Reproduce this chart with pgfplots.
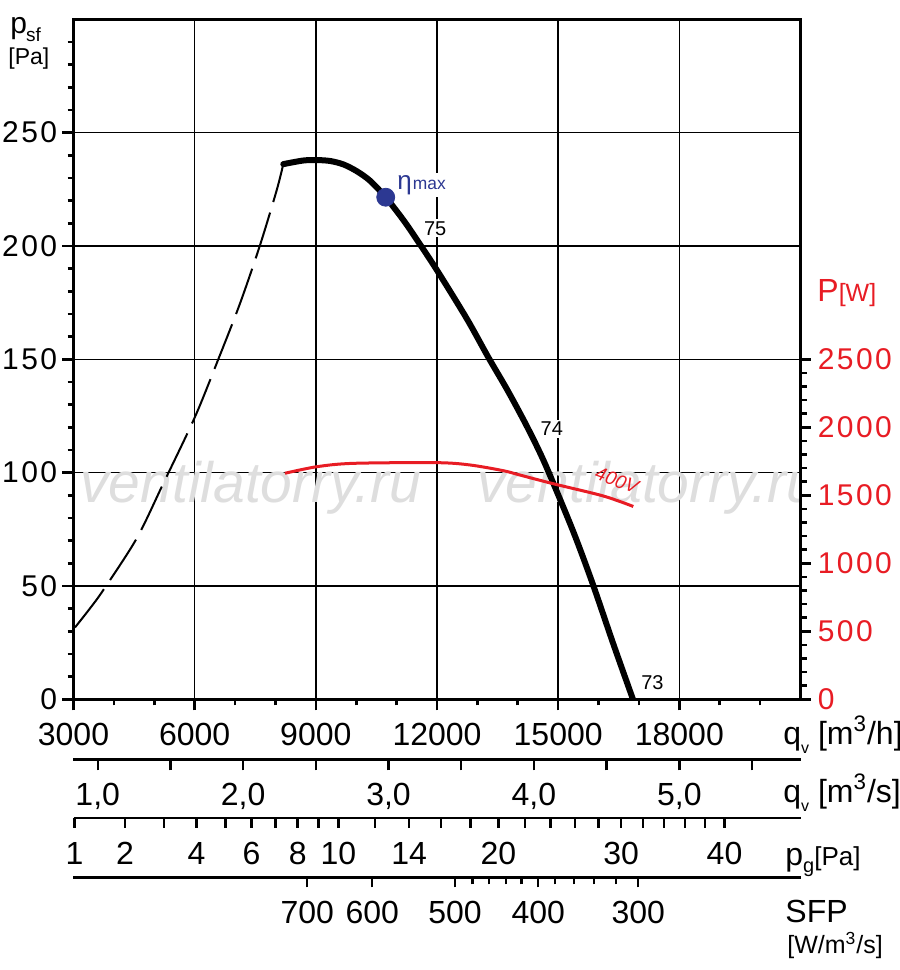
\documentclass[border=0pt]{standalone}
\usepackage{fontspec}
\setmainfont{Liberation Sans}
\usepackage{pgfplots}
\pgfplotsset{compat=1.18}
\definecolor{curvered}{RGB}{232,28,36}
\definecolor{etablue}{RGB}{44,56,146}
\newcommand\fs[1]{\fontsize{#1}{#1}\selectfont}
\newcommand\lsp{\addfontfeature{LetterSpace=8}}
\pgfplotsset{
  secaxis/.style={
    width=363.5pt, height=1pt, scale only axis, anchor=south west,
    xmin=3000, xmax=21000, ymin=0, ymax=1,
    axis y line=none, axis x line*=bottom,
    axis line style={line width=1.2pt},
    tick align=outside, major tick length=5pt, minor tick length=3.5pt,
    tick style={line width=1.2pt, black},
    scaled x ticks=false,
    xticklabel style={font=\fs{16}, anchor=base, yshift=-18.3pt, inner sep=0pt},
    /pgf/number format/assume math mode=true,
  }
}
\begin{document}
\begin{tikzpicture}
\path[use as bounding box] (-36.75pt,-135.35pt) rectangle (413.25pt,349.65pt);

% main axis
\begin{axis}[at={(0pt,0pt)}, anchor=south west, width=363.5pt, height=340pt, scale only axis,
  xmin=3000, xmax=21000, ymin=0, ymax=300,
  scaled x ticks=false, scaled y ticks=false,
  xtick={3000,6000,9000,12000,15000,18000}, xticklabels={3000,6000,9000,12000,15000,18000},
  minor xtick={4000,5000,7000,8000,10000,11000,13000,14000,16000,17000,19000,20000},
  ytick={0,50,100,150,200,250}, yticklabels={0,50,100,150,200,250},
  minor ytick={10,20,...,290},
  xtick pos=bottom, ytick pos=left, tick align=outside,
  major tick length=5.5pt, minor tick length=3pt,
  tick style={line width=1.3pt, black},
  axis line style={line width=1.4pt},
  xmajorgrids, ymajorgrids, major grid style={line width=0.75pt, black},
  xticklabel style={font=\fs{16}, anchor=base, yshift=-17.8pt, inner sep=0pt},
  yticklabel style={font=\fs{15}\lsp, anchor=east, xshift=-2.5pt, inner sep=0pt},
  /pgf/number format/assume math mode=true,
]
\node[anchor=base west, inner sep=0pt, text=black!13] at (rel axis cs:0.0089,0.2901) {\fs{28.5}\itshape ventilatorry.ru};
\node[anchor=base west, inner sep=0pt, text=black!13] at (rel axis cs:0.555,0.2901) {\fs{28.5}\itshape ventilatorry.ru};
\node[anchor=base west, fill=white, inner sep=1pt] at (axis cs:10960,225.0) {\color{etablue}\fs{13}η\kern0.5pt\fs{8.7}max};
\node[anchor=base west, fill=white, inner sep=1pt] at (axis cs:11621,204.8) {\fs{10}75};
\node[anchor=base west, fill=white, inner sep=1pt] at (axis cs:14508,116.2) {\fs{10}74};
\node[anchor=base west, inner sep=1pt] at (axis cs:17000,4.4) {\fs{10}73};
\node[rotate=-20, text=curvered, inner sep=0pt] at (axis cs:16456,96.6) {\fs{9.5}\itshape 400V};

\addplot[black, line width=1pt, dash pattern=on 24pt off 5.5pt, smooth] coordinates {
(3037,31.7) (3408,40.1) (3738,48.2) (4565,71.0) (5223,95.2) (6008,124.6)
(6585,150.0) (7122,174.6) (7617,200.3) (8031,224.6) (8194,236.1)};
\addplot[black, line width=3pt, line cap=round, smooth] coordinates {
(8194,236.1) (8689,237.7) (9021,237.9) (9350,237.5) (9680,236.0) (10012,233.0)
(10341,228.8) (10730,221.5) (11165,211.5) (11497,202.9) (11992,189.5) (12735,168.0)
(13270,150.9) (13725,137.0) (14136,123.5) (14468,111.8) (14755,100.6) (15374,74.0)
(15854,51.0) (16364,24.5) (16852,0)};
\addplot[only marks, mark=*, mark size=4.5pt, mark options={draw=etablue, fill=etablue}] coordinates {(10730,221.5)};
\end{axis}

% power axis (right)
\begin{axis}[at={(0pt,0pt)}, anchor=south west, width=363.5pt, height=340pt, scale only axis,
  xmin=3000, xmax=21000, ymin=0, ymax=5000,
  scaled y ticks=false,
  axis x line=none, axis y line*=right,
  ytick={0,500,1000,1500,2000,2500}, yticklabels={0,500,1000,1500,2000,2500},
  minor ytick={100,200,...,2400},
  tick align=outside, major tick length=5pt, minor tick length=3pt,
  tick style={line width=1.3pt, black},
  axis line style={line width=1.4pt},
  yticklabel style={font=\fs{15}\lsp, text=curvered, anchor=west, xshift=3.5pt, inner sep=0pt},
  /pgf/number format/assume math mode=true,
]
\addplot[curvered, line width=1.5pt, smooth] coordinates {
(8236,1662) (9021,1710) (9927,1735) (11992,1740) (12817,1723) (13641,1681)
(14054,1649) (14879,1585) (16117,1495) (16860,1418)};
\end{axis}

% q in m3/s
\begin{axis}[secaxis, at={(0pt,-30pt)}, major tick length=5.5pt,
  xticklabel style={yshift=0.5pt},
  xtick={3600,5400,7200,9000,10800,12600,14400,16200,18000,19800},
  xticklabels={{1,0},{},{2,0},{},{3,0},{},{4,0},{},{5,0},{}}]
\end{axis}

% dynamic pressure pg
\begin{axis}[secaxis, at={(0pt,-59.2pt)},
  xtick={3023,4275.2,5236.0,6046,6759.6,7404.8,7998.1,8550.4,9069,9559.6,10472.0,11311.0,12092,12825.5,13519.4,14179.1,14809.6,15414.4,15996.2,16557.7,17100.7,17627.0,18138,18634.9,19119.0},
  xticklabels={1,2,{},4,{},6,{},8,{},10,{},14,{},{},20,{},{},{},{},30,{},{},{},{},40}]
\end{axis}

% SFP
\begin{axis}[secaxis, at={(0pt,-89pt)},
  xtick={8788,10398,12445,14508,16983},
  xticklabels={700,600,500,400,300},
  minor xtick={12883,13294,13708,14097,14928,15391,15887,16431}]
\end{axis}

\begin{scope}[x=0.5pt,y=-0.5pt,shift={(-36.75pt,349.65pt)}]
\node[anchor=base west, inner sep=0pt] at (10,34) {\fs{15}p\kern-0.5pt\raisebox{-3.8pt}{\fs{9.5}sf}};
\node[anchor=base west, inner sep=0pt] at (8,65) {\fs{11.5}[Pa]};
\node[anchor=base west, inner sep=0pt, text=curvered] at (817,302) {\fs{16}P\fs{12.5}[W]};
\node[anchor=base west, inner sep=0pt] at (783,744) {\fs{16}q\raisebox{-4.5pt}{\fs{8}v} [m\textsuperscript{3}/h]};
\node[anchor=base west, inner sep=0pt] at (783,802) {\fs{16}q\raisebox{-4.5pt}{\fs{8}v} [m\textsuperscript{3}/s]};
\node[anchor=base west, inner sep=0pt] at (785,865) {\fs{16}p\raisebox{-3.5pt}{\fs{10}g}\fs{13}[Pa]};
\node[anchor=base west, inner sep=0pt] at (785,922) {\fs{16}SFP};
\node[anchor=base west, inner sep=0pt] at (787,953) {\fs{12.5}[W/m\textsuperscript{3}/s]};
\end{scope}
\end{tikzpicture}
\end{document}
